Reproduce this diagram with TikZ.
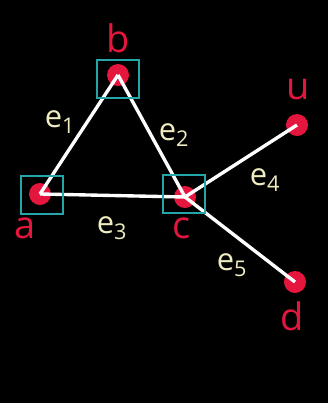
\documentclass[tikz,border=0pt]{standalone}
\usepackage{fontspec}
\setmainfont{Open Sans}
\usetikzlibrary{positioning}
\definecolor{vertexred}{RGB}{228, 22, 62}
\definecolor{boxcyan}{RGB}{36, 166, 168}
\definecolor{chalk}{RGB}{238, 236, 192}

\begin{document}
\begin{tikzpicture}[x=0.025cm, y=-0.025cm,
    vertex/.style={circle, fill=vertexred, inner sep=0pt, minimum size=0.55cm},
    pickbox/.style={draw=boxcyan, line width=1.3pt, inner sep=0pt,
                    minimum width=1.05cm, minimum height=0.95cm},
    link/.style={draw=white, line width=2.4pt},
    vname/.style={text=vertexred, font=\fontsize{27}{29}\selectfont},
    ename/.style={text=chalk, font=\fontsize{22}{24}\selectfont}
]
    \fill[black] (0,0) rectangle (328,403);
    \useasboundingbox (0,0) rectangle (328,403);

    % vertices
    \node[vertex] (a) at (40,194) {};
    \node[vertex] (b) at (118,75) {};
    \node[vertex] (c) at (185,197) {};
    \node[vertex] (u) at (297,125) {};
    \node[vertex] (d) at (295,282) {};

    % edges
    \draw[link] (a.center) -- (b.center);
    \draw[link] (b.center) -- (c.center);
    \draw[link] (a.center) -- (c.center);
    \draw[link] (c.center) -- (u.center);
    \draw[link] (c.center) -- (d.center);

    % selected vertices
    \node[pickbox] (boxa) at (42,195) {};
    \node[pickbox] (boxb) at (118,79) {};
    \node[pickbox] (boxc) at (184,194) {};

    % vertex names
    \node[vname] (la) at (25,228) {a};
    \node[vname] (lb) at (118,38) {b};
    \node[vname] (lc) at (182,228) {c};
    \node[vname] (lu) at (298,90) {u};
    \node[vname] (ld) at (292,316) {d};

    % edge names
    \node[ename] (le1) at (60,122) {e\textsubscript{1}};
    \node[ename] (le2) at (174,135) {e\textsubscript{2}};
    \node[ename] (le3) at (112,228) {e\textsubscript{3}};
    \node[ename] (le4) at (265,180) {e\textsubscript{4}};
    \node[ename] (le5) at (232,265) {e\textsubscript{5}};
\end{tikzpicture}
\end{document}
